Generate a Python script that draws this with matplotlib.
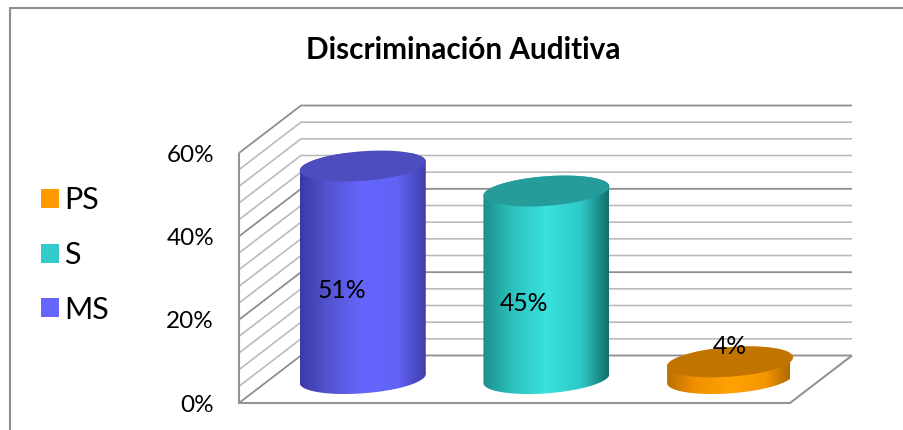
import numpy as np
import matplotlib
matplotlib.use("Agg")
import matplotlib.pyplot as plt
from matplotlib.colors import LinearSegmentedColormap
from matplotlib.lines import Line2D
from matplotlib.patches import Patch, Polygon

# ---- data ----
title = "Discriminación Auditiva"
categories = ["MS", "S", "PS"]
values = [51, 45, 4]
value_labels = ["51%", "45%", "4%"]
y_ticks = [0, 20, 40, 60]
y_tick_labels = ["0%", "20%", "40%", "60%"]
minor_ticks = list(range(0, 61, 4))

# ---- style ----
base_colors = ["#6666FF", "#33CCCC", "#FF9900"]
top_colors = ["#4D4DBF", "#269C9A", "#C27400"]
side_stops = [
    ["#3A3AA6", "#5454CE", "#6666FF", "#6262F4", "#3E3EA8"],
    ["#1A8F8C", "#2CC0BC", "#38E2DE", "#2FC9C6", "#126E6C"],
    ["#B96F00", "#F09000", "#FFA200", "#F59500", "#A86400"],
]
FONT = "Lato"
W, H = 904, 430
plt.rcParams["font.family"] = [FONT, "DejaVu Sans"]

fig = plt.figure(figsize=(W / 100, H / 100), dpi=100, facecolor="white")
# the axes is exactly the front plane of the 3D box
L, R, B, T = 239, 790, 403, 153
ax = fig.add_axes([L / W, 1 - B / H, (R - L) / W, (B - T) / H])
ax.set_xlim(-0.5, 2.5)
ax.set_ylim(0, 60)
ax.patch.set_visible(False)
for s in ax.spines.values():
    s.set_visible(False)
ax.set_xticks([])
ax.set_yticks(y_ticks)
ax.set_yticklabels(y_tick_labels, fontsize=17.5, color="black")
ax.tick_params(axis="y", length=0, pad=18)

px_x = 3 / (R - L)          # category units per pixel
px_y = 60 / (B - T)         # percent units per pixel
DX, DY = 62 * px_x, 47.5 * px_y


def project(x, y, depth=0.0):
    return x + depth * DX, y + depth * DY


def line(xs, ys, color, lw, z=1):
    ax.plot(xs, ys, color=color, lw=lw, clip_on=False, zorder=z,
            solid_capstyle="butt", solid_joinstyle="miter")


# ---- box: walls and gridlines ----
MAJOR, MINOR = "#8E8E8E", "#B9B9B9"
for v in minor_ticks:
    major = v % 20 == 0
    c = MAJOR if major else MINOR
    x0, y0 = project(-0.5, v, 0)
    x1, y1 = project(-0.5, v, 1)
    x2, y2 = project(2.5, v, 1)
    line([x0, x1, x2], [y0, y1, y2], c, 1.3 if major else 1.15)

corners = [project(-0.5, 60, 0), project(-0.5, 0, 0), project(2.5, 0, 0), project(2.5, 0, 1)]
line([p[0] for p in corners], [p[1] for p in corners], "#949494", 1.5, z=2)

# ---- cylinders ----
rx = 63 * px_x
skew = 4.5 * px_y
ry = 14.8 * px_y
t = np.linspace(0, 2 * np.pi, 241)


def ellipse(cx, cy, ts):
    return np.column_stack([cx + rx * np.cos(ts), cy + skew * np.cos(ts) + ry * np.sin(ts)])


nudges = [(-21, -18), (-22, -19), (0, 24)]
for i, val in enumerate(values):
    cx, cy0 = project(i, 0, 0.515)
    cy1 = cy0 + val
    lower = ellipse(cx, cy0, np.linspace(np.pi, 2 * np.pi, 120))
    upper = ellipse(cx, cy1, np.linspace(0, np.pi, 120))
    poly = Polygon(np.vstack([lower, upper]), closed=True, facecolor="none",
                   edgecolor="none", transform=ax.transData, zorder=3)
    ax.add_patch(poly)
    cmap = LinearSegmentedColormap.from_list(
        f"side{i}", list(zip([0, 0.22, 0.5, 0.78, 1], side_stops[i])))
    grad = np.linspace(0, 1, 256).reshape(1, -1)
    im = ax.imshow(grad, cmap=cmap, aspect="auto", zorder=3, interpolation="bilinear",
                   extent=(cx - rx, cx + rx, cy0 - 2 * ry, cy1 + 2 * ry))
    im.set_clip_box(None)
    im.set_clip_path(poly)
    top = Polygon(ellipse(cx, cy1, t), closed=True, facecolor=top_colors[i],
                  edgecolor="none", zorder=4, clip_on=False)
    ax.add_patch(top)
    ax.annotate(value_labels[i], xy=(cx, cy0 + val / 2), xytext=nudges[i],
                textcoords="offset pixels", ha="center", va="center",
                fontsize=17.8, color="black", zorder=6, annotation_clip=False)

ax.set_xlim(-0.5, 2.5)
ax.set_ylim(0, 60)

# ---- legend ----
handles = [Patch(facecolor=base_colors[i], edgecolor="none") for i in (2, 1, 0)]
labels = [categories[i] for i in (2, 1, 0)]
fig.legend(handles, labels, loc="center left", bbox_to_anchor=(41 / W, 1 - 255 / H),
           frameon=False, fontsize=22, handlelength=0.59, handleheight=0.59,
           handletextpad=0.17, labelspacing=0.87, borderpad=0, borderaxespad=0)

# ---- title and chart frame ----
fig.text(463 / W, 1 - 50 / H, title, ha="center", va="center",
         fontsize=21.4, fontweight="bold", color="black")
frame_x = [10 / W, 10 / W, 1]
frame_y = [0, 1 - 7.5 / H, 1 - 7.5 / H]
fig.add_artist(Line2D(frame_x, frame_y, color="#8E8E8E", lw=1.5, transform=fig.transFigure))

fig.savefig("out.png", dpi=100, facecolor="white")
